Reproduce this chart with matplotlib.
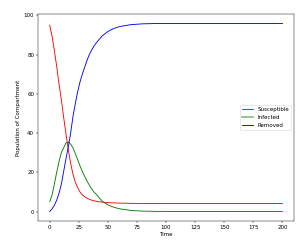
import numpy as np
import matplotlib
matplotlib.use('Agg')
import matplotlib.pyplot as plt

# values
t = [0, 2, 4, 6, 8, 10, 12, 14, 16, 18, 20, 22, 24, 26, 28, 30, 32, 34, 36, 38, 40,
     45, 50, 55, 60, 70, 80, 90, 100, 125, 150, 175, 200]
S = [95.0, 89.5, 82.0, 74.0, 65.0, 57.0, 48.0, 39.5, 31.5, 24.5, 19.0, 15.0, 12.2, 10.0, 8.5, 7.6, 6.8, 6.3, 5.8, 5.5, 5.2,
     4.8, 4.55, 4.4, 4.3, 4.18, 4.12, 4.1, 4.1, 4.1, 4.1, 4.1, 4.1]
I = [5.0, 8.4, 14.0, 20.0, 25.5, 30.0, 32.5, 35.0, 35.5, 34.3, 32.5, 29.5, 26.5, 23.3, 20.5, 18.0, 15.6, 13.5, 11.6, 10.0, 8.8,
     5.3, 3.4, 2.2, 1.4, 0.55, 0.22, 0.1, 0.05, 0.01, 0.0, 0.0, 0.0]
R = [0.0, 1.3, 3.2, 5.8, 9.3, 14.0, 20.5, 27.0, 33.0, 40.0, 48.5, 55.0, 61.0, 66.0, 70.0, 73.5, 77.0, 80.0, 82.3, 84.3, 86.0,
     89.5, 91.8, 93.3, 94.3, 95.3, 95.7, 95.85, 95.9, 95.9, 95.9, 95.9, 95.9]

DPI = 40
fig = plt.figure(figsize=(307 / DPI, 242 / DPI), dpi=DPI)
ax = fig.add_axes([0.124, 0.087, 0.834, 0.855])
ax.plot(t, S, 'r', lw=1.6, label='Susceptible')
ax.plot(t, I, 'g', lw=1.6, label='Infected')
ax.plot(t, R, 'b', lw=1.6, label='Removed')
ax.set_xlabel('Time')
ax.set_ylabel('Population of Compartment')
ax.set_xticks(np.arange(0, 201, 25))
ax.set_yticks(np.arange(0, 101, 20))
leg = ax.legend(loc='center right')
leg.get_lines()[1].set_linewidth(3)
leg.get_lines()[1].set_alpha(0.5)
fig.savefig('out.png', dpi=DPI)
